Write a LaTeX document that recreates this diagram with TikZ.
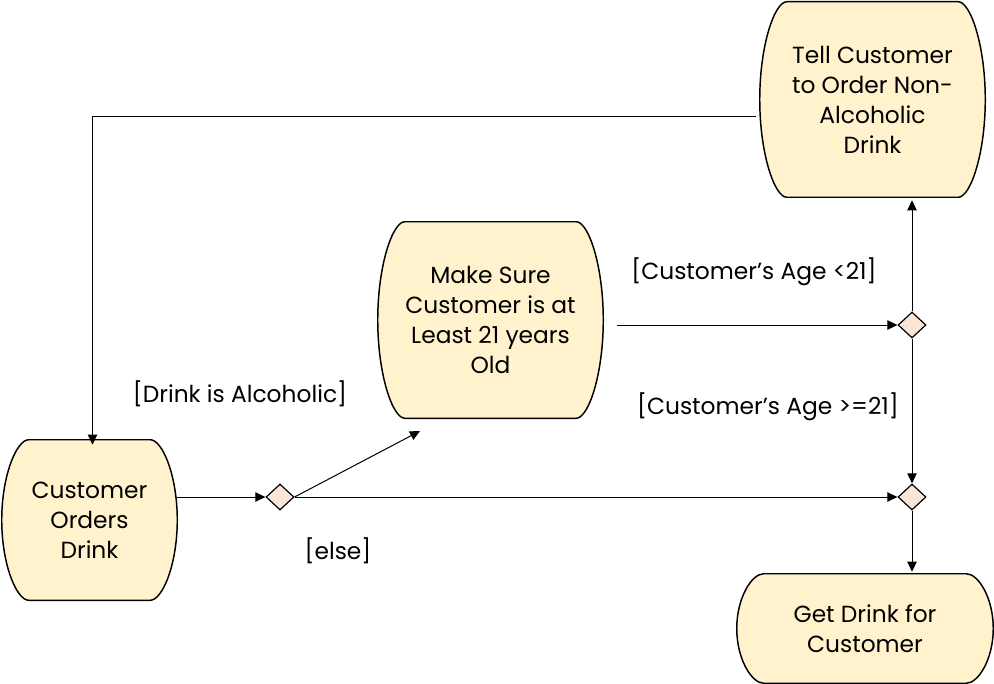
\documentclass[tikz,border=0pt]{standalone}
\usepackage{fontspec}
\setmainfont{Poppins}
\usepackage{tikz}
\usetikzlibrary{calc}
\usetikzlibrary{shapes.geometric}
\usetikzlibrary{arrows.meta}
\usetikzlibrary{backgrounds}
\definecolor{actfill}{HTML}{FFF2CC}
\definecolor{decfill}{HTML}{FBE5D6}
\tikzset{
  act/.style={inner sep=0pt, align=center, font=\fontsize{17.5}{22.5}\selectfont},
  dec/.style={shape=diamond, draw=black, fill=decfill, line width=0.9pt, inner sep=0pt, minimum width=21pt, minimum height=19.5pt},
  flow/.style={line width=0.75pt, -{Triangle[length=7.5pt,width=7pt]}},
  guard/.style={inner sep=0pt, font=\fontsize{17.5}{20}\selectfont}
}
\newcommand{\actshape}[1]{\draw[line width=1.1pt, fill=actfill]
  ($(#1.north west)+(27,0)$) -- ($(#1.north east)+(-27,0)$)
  .. controls ($(#1.north east)+(-15,0)$) and ($(#1.east)!0.56!(#1.north east)$) .. (#1.east)
  .. controls ($(#1.east)!0.56!(#1.south east)$) and ($(#1.south east)+(-15,0)$) .. ($(#1.south east)+(-27,0)$)
  -- ($(#1.south west)+(27,0)$)
  .. controls ($(#1.south west)+(15,0)$) and ($(#1.west)!0.56!(#1.south west)$) .. (#1.west)
  .. controls ($(#1.west)!0.56!(#1.north west)$) and ($(#1.north west)+(15,0)$) .. cycle;}

\begin{document}
\begin{tikzpicture}[x=0.75pt, y=0.75pt]
        \useasboundingbox (0,0) rectangle (994,-684);

        %nodes
        \node[act, minimum width=131.25pt, minimum height=120pt] (orders) at (89.5,-520) {Customer\\Orders\\Drink};
        \node[act, minimum width=168.75pt, minimum height=147pt] (check) at (490.5,-320) {Make Sure\\Customer is at\\Least 21 years\\Old};
        \node[act, minimum width=168.75pt, minimum height=146.25pt] (tell) at (872.5,-99.5) {Tell Customer\\to Order Non-\\Alcoholic\\Drink};
        \node[act, minimum width=192pt, minimum height=81.75pt] (get) at (865,-628.5) {Get Drink for\\Customer};
        \node[dec] (d1) at (280,-497) {};
        \node[dec] (d2) at (912,-325) {};
        \node[dec] (d3) at (912,-497) {};
        \begin{scope}[on background layer]
          \actshape{orders}
          \actshape{check}
          \actshape{tell}
          \actshape{get}
        \end{scope}

        %guards
        \node[guard] (alc) at (240,-394) {[Drink is Alcoholic]};
        \node[guard] (else) at (338,-551) {[else]};
        \node[guard] (young) at (754,-272) {[Customer’s Age <21]};
        \node[guard] (old) at (768,-407) {[Customer’s Age >=21]};

        %edges
        \coordinate (c1) at (420,-431);
        \coordinate (c2) at (617,-325);
        \coordinate (t1) at (756,-117);
        \draw[flow] (orders.east |- d1) -- (d1.west);
        \draw[flow] (d1.east) -- (c1);
        \draw[flow] (d1.east) -- (d3.west);
        \draw[flow] (c2) -- (d2.west);
        \draw[flow] (d2.south) -- (d3.north);
        \draw[flow] (d2.north) -- ($(d2 |- tell.south)+(0,-3)$);
        \draw[flow] (d3.south) -- ($(d3 |- get.north)+(0,2)$);
        \draw[flow] (t1) -| ($(orders.north)+(3,-5)$);

        \end{tikzpicture}
\end{document}
